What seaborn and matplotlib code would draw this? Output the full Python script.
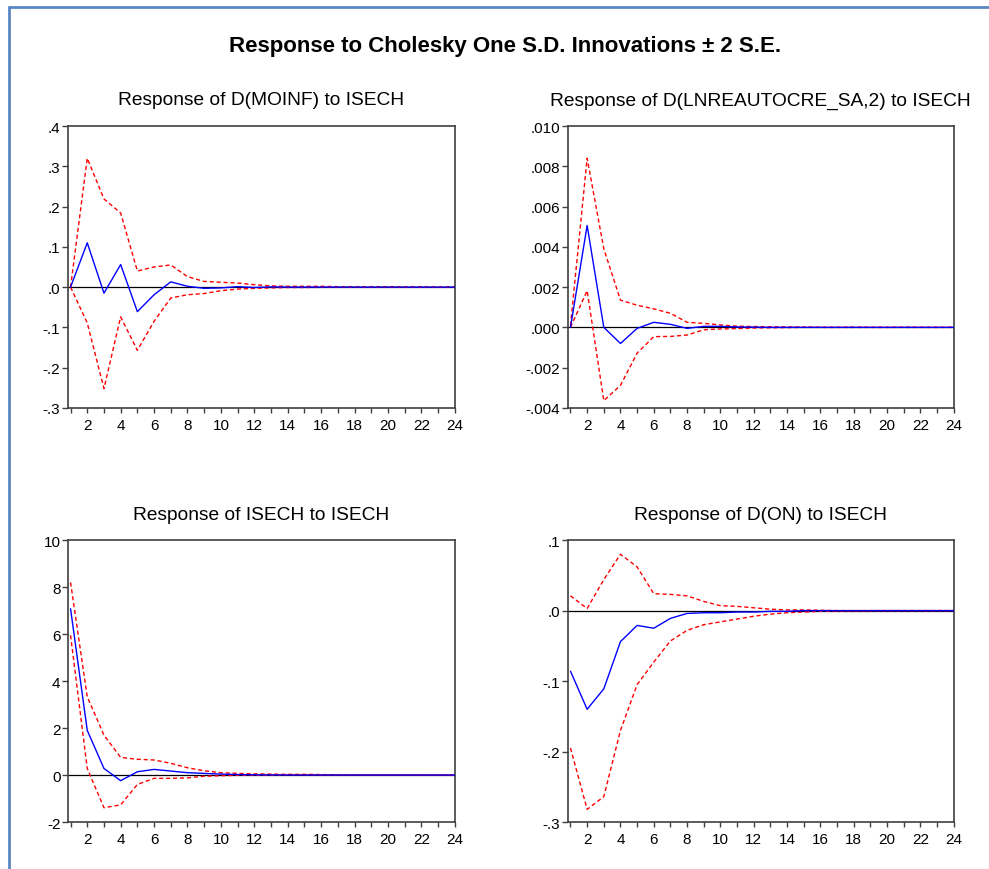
import matplotlib
matplotlib.use("Agg")
import matplotlib.pyplot as plt
import matplotlib.ticker as mticker
import matplotlib.lines as mlines
import numpy as np
import pandas as pd
import seaborn as sns

# periods 1..24
periods = list(range(1, 25))

# Response of D(MOINF) to ISECH
moinf_resp = [0.0, 0.110, -0.015, 0.056, -0.061, -0.019, 0.013, 0.002, -0.003, -0.002,
              0.001, -0.001, 0.0005, 0.0, 0.0, 0.0, 0.0, 0.0, 0.0, 0.0, 0.0, 0.0, 0.0, 0.0]
moinf_up = [0.0, 0.320, 0.219, 0.184, 0.040, 0.050, 0.055, 0.026, 0.014, 0.012,
            0.010, 0.006, 0.003, 0.002, 0.002, 0.002, 0.001, 0.001, 0.001, 0.001,
            0.0005, 0.0003, 0.0002, 0.0001]
moinf_lo = [0.0, -0.089, -0.252, -0.074, -0.157, -0.085, -0.027, -0.019, -0.016, -0.009,
            -0.005, -0.003, -0.002, -0.001, -0.001, -0.0005, -0.0003, -0.0002, -0.0001, 0.0,
            0.0, 0.0, 0.0, 0.0]

# Response of D(LNREAUTOCRE_SA,2) to ISECH
lnre_resp = [0.0, 0.00506, 0.0, -0.00080, -0.00005, 0.00025, 0.00015, -0.00005, 0.00005, 0.00005,
             0.00002, 0.00001, 0.0, 0.0, 0.0, 0.0, 0.0, 0.0, 0.0, 0.0, 0.0, 0.0, 0.0, 0.0]
lnre_up = [0.0001, 0.0084, 0.0039, 0.00135, 0.0011, 0.00092, 0.0007, 0.00025, 0.0002, 0.00012,
           0.00006, 0.00004, 0.00003, 0.00002, 0.00001, 0.0, 0.0, 0.0, 0.0, 0.0, 0.0, 0.0, 0.0, 0.0]
lnre_lo = [0.0, 0.00182, -0.00364, -0.00288, -0.00128, -0.00046, -0.00045, -0.00038, -0.00012, -0.00008,
           -0.00006, -0.00003, -0.00002, -0.00001, 0.0, 0.0, 0.0, 0.0, 0.0, 0.0, 0.0, 0.0, 0.0, 0.0]

# Response of ISECH to ISECH
isech_resp = [7.08, 1.90, 0.28, -0.24, 0.14, 0.24, 0.17, 0.10, 0.07, 0.04,
              0.02, 0.01, 0.005, 0.0, 0.0, 0.0, 0.0, 0.0, 0.0, 0.0, 0.0, 0.0, 0.0, 0.0]
isech_up = [8.2, 3.33, 1.70, 0.75, 0.67, 0.64, 0.50, 0.31, 0.18, 0.10,
            0.07, 0.05, 0.04, 0.03, 0.03, 0.02, 0.01, 0.005, 0.0, 0.0, 0.0, 0.0, 0.0, 0.0]
isech_lo = [5.95, 0.28, -1.39, -1.27, -0.40, -0.14, -0.14, -0.12, -0.05, -0.03,
            -0.01, -0.01, -0.005, 0.0, 0.0, 0.0, 0.0, 0.0, 0.0, 0.0, 0.0, 0.0, 0.0, 0.0]

# Response of D(ON) to ISECH
don_resp = [-0.086, -0.140, -0.111, -0.044, -0.021, -0.025, -0.011, -0.004, -0.003, -0.003,
            -0.002, -0.002, -0.001, -0.001, 0.0, 0.0, 0.0, 0.0, 0.0, 0.0, 0.0, 0.0, 0.0, 0.0]
don_up = [0.021, 0.003, 0.044, 0.080, 0.062, 0.024, 0.023, 0.021, 0.013, 0.007,
          0.006, 0.004, 0.002, 0.001, 0.001, 0.0005, 0.0, 0.0, 0.0, 0.0, 0.0, 0.0, 0.0, 0.0]
don_lo = [-0.195, -0.282, -0.264, -0.170, -0.105, -0.073, -0.043, -0.028, -0.020, -0.016,
          -0.012, -0.008, -0.005, -0.003, -0.002, -0.001, -0.0005, -0.0003, -0.0001, 0.0,
          0.0, 0.0, 0.0, 0.0]

panels = [
    ("Response of D(MOINF) to ISECH", moinf_resp, moinf_up, moinf_lo, (-0.3, 0.4), 0.1, 1),
    ("Response of D(LNREAUTOCRE_SA,2) to ISECH", lnre_resp, lnre_up, lnre_lo, (-0.004, 0.010), 0.002, 3),
    ("Response of ISECH to ISECH", isech_resp, isech_up, isech_lo, (-2, 10), 2, 0),
    ("Response of D(ON) to ISECH", don_resp, don_up, don_lo, (-0.3, 0.1), 0.1, 1),
]

sns.set_style("white")
plt.rcParams['font.family'] = ['Liberation Sans', 'DejaVu Sans']
plt.rcParams['text.color'] = 'black'
plt.rcParams['axes.titlecolor'] = 'black'
plt.rcParams['xtick.labelcolor'] = 'black'
plt.rcParams['ytick.labelcolor'] = 'black'

fig = plt.figure(figsize=(9.89, 8.70), dpi=100)

# blue window frame (left and top)
fig.add_artist(mlines.Line2D([0.0091, 0.0091], [0, 0.9908], color='#5b86c4', lw=2))
fig.add_artist(mlines.Line2D([0.0091, 1.0], [0.9908, 0.9908], color='#5b86c4', lw=2))

fig.text(0.511, 0.947, "Response to Cholesky One S.D. Innovations \u00b1 2 S.E.",
         ha='center', va='center', fontsize=16, fontweight='bold')

positions = [
    [0.0688, 0.530, 0.391, 0.324],
    [0.5743, 0.530, 0.390, 0.324],
    [0.0688, 0.054, 0.391, 0.324],
    [0.5743, 0.054, 0.390, 0.324],
]


def make_fmt(dec):
    def f(v, pos):
        if dec == 0:
            return "%d" % round(v)
        s = "%.*f" % (dec, v)
        return s.replace("0.", ".", 1)
    return f


for pos, (title, resp, up, lo, ylim, ystep, dec) in zip(positions, panels):
    ax = fig.add_axes(pos)
    df = pd.DataFrame({"period": periods, "resp": resp, "up": up, "lo": lo})
    ax.axhline(0, color='black', lw=0.9, zorder=1)
    sns.lineplot(data=df, x="period", y="up", ax=ax, color='red', lw=1.0,
                 linestyle=(0, (3, 2)), zorder=2)
    sns.lineplot(data=df, x="period", y="lo", ax=ax, color='red', lw=1.0,
                 linestyle=(0, (3, 2)), zorder=2)
    sns.lineplot(data=df, x="period", y="resp", ax=ax, color='blue', lw=1.0, zorder=3)
    ax.set_xlim(0.85, 24.0)
    ax.set_ylim(*ylim)
    ax.set_yticks(np.arange(ylim[0], ylim[1] + ystep / 2, ystep))
    ax.yaxis.set_major_formatter(mticker.FuncFormatter(make_fmt(dec)))
    ax.xaxis.set_major_locator(mticker.MultipleLocator(2))
    ax.xaxis.set_minor_locator(mticker.MultipleLocator(1))
    ax.set_xlabel("")
    ax.set_ylabel("")
    ax.set_title(title, fontsize=13.8, pad=15.5)
    for sp in ax.spines.values():
        sp.set_color('#404040')
        sp.set_linewidth(1.2)
    ax.tick_params(axis='x', which='both', direction='out', length=3.5, width=1,
                   color='#404040', labelsize=11, pad=3.5, bottom=True)
    ax.tick_params(axis='y', which='both', direction='out', length=4.5, width=1,
                   color='#404040', labelsize=11, pad=1, left=True)

fig.savefig("out.png", dpi=100)
